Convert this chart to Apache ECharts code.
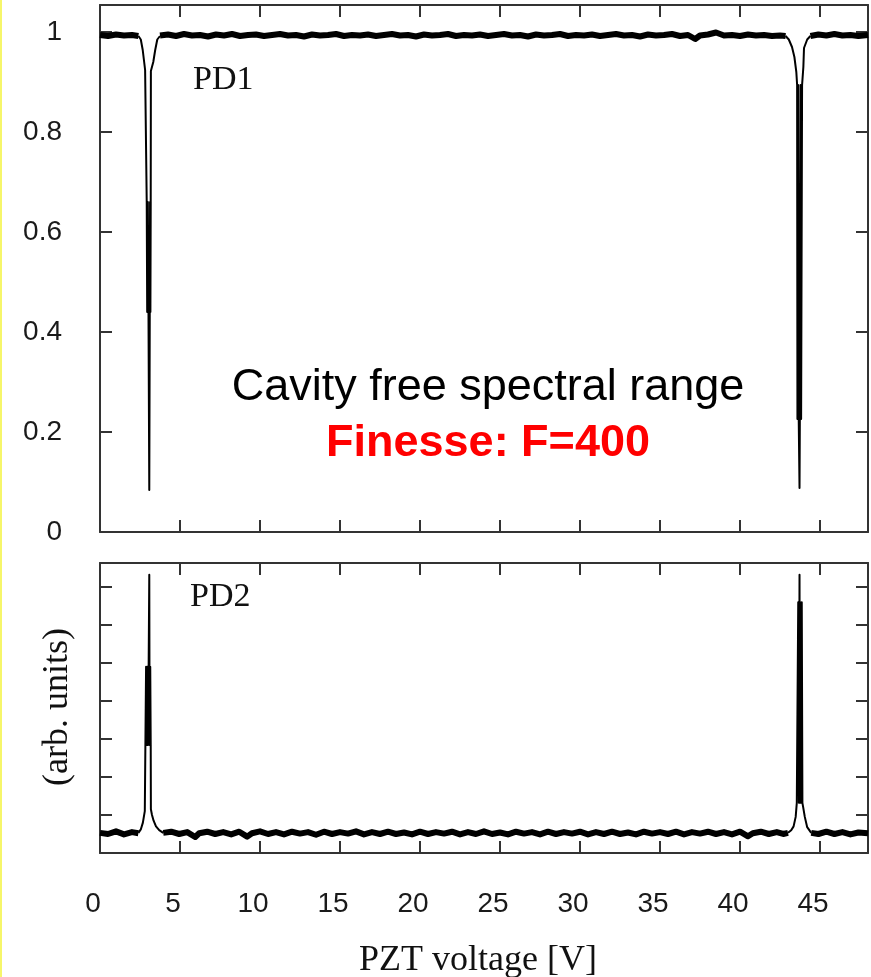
<!DOCTYPE html>
<html>
<head>
<meta charset="utf-8">
<script src="https://cdn.jsdelivr.net/npm/echarts@6/dist/echarts.min.js"></script>
<style>
  html, body { margin: 0; padding: 0; background: #fff; }
  #chart { width: 871px; height: 977px; }
</style>
</head>
<body>
<div id="chart"></div>
<script>
// PD1 (transmission dip), x = PZT voltage [V]
var pd1Left = [[0, 0.994], [0.5, 0.992], [1.0, 0.995], [1.5, 0.993], [2.0, 0.994], [2.4, 0.992]];
var pd1Dip1 = [[2.4, 0.992], [2.55, 0.985], [2.67, 0.964], [2.76, 0.94], [2.82, 0.924], [2.9, 0.922],
  [2.92, 0.66], [2.95, 0.44], [2.99, 0.66], [3.03, 0.44], [3.08, 0.084], [3.11, 0.44], [3.13, 0.66],
  [3.15, 0.44], [3.17, 0.66], [3.18, 0.922], [3.26, 0.924], [3.33, 0.94], [3.45, 0.964], [3.58, 0.985], [3.75, 0.992]];
var pd1Mid = [[3.75, 0.993], [4.25, 0.995], [4.75, 0.992], [5.25, 0.996], [5.75, 0.993], [6.25, 0.994],
  [6.75, 0.991], [7.25, 0.995], [7.75, 0.993], [8.25, 0.996], [8.75, 0.992], [9.25, 0.994], [9.75, 0.995],
  [10.25, 0.992], [10.75, 0.994], [11.25, 0.996], [11.75, 0.993], [12.25, 0.994], [12.75, 0.991],
  [13.25, 0.995], [13.75, 0.993], [14.25, 0.994], [14.75, 0.996], [15.25, 0.992], [15.75, 0.994],
  [16.25, 0.993], [16.75, 0.995], [17.25, 0.992], [17.75, 0.994], [18.25, 0.996], [18.75, 0.993],
  [19.25, 0.994], [19.75, 0.991], [20.25, 0.995], [20.75, 0.993], [21.25, 0.994], [21.75, 0.996],
  [22.25, 0.992], [22.75, 0.994], [23.25, 0.993], [23.75, 0.995], [24.25, 0.992], [24.75, 0.994],
  [25.25, 0.996], [25.75, 0.993], [26.25, 0.994], [26.75, 0.991], [27.25, 0.995], [27.75, 0.993],
  [28.25, 0.994], [28.75, 0.996], [29.25, 0.992], [29.75, 0.994], [30.25, 0.993], [30.75, 0.995],
  [31.25, 0.992], [31.75, 0.994], [32.25, 0.996], [32.75, 0.993], [33.25, 0.994], [33.75, 0.991],
  [34.25, 0.995], [34.75, 0.993], [35.25, 0.994], [35.75, 0.996], [36.25, 0.992], [36.75, 0.994],
  [37.2, 0.986], [37.5, 0.993], [38.0, 0.995], [38.5, 0.999], [39.0, 0.993], [39.5, 0.994], [40.0, 0.992],
  [40.5, 0.995], [41.0, 0.993], [41.5, 0.994], [42.0, 0.992], [42.5, 0.993], [42.85, 0.992]];
var pd1Dip2 = [[42.85, 0.992], [43.05, 0.985], [43.25, 0.97], [43.4, 0.95], [43.52, 0.92], [43.57, 0.894],
  [43.59, 0.226], [43.63, 0.894], [43.67, 0.226], [43.72, 0.088], [43.74, 0.226], [43.78, 0.894],
  [43.82, 0.226], [43.88, 0.894], [43.93, 0.894], [43.96, 0.93], [44.0, 0.968], [44.2, 0.985], [44.4, 0.992]];
var pd1Right = [[44.4, 0.992], [44.9, 0.995], [45.4, 0.993], [45.9, 0.996], [46.4, 0.993], [46.9, 0.994],
  [47.4, 0.992], [48, 0.994]];

// PD2 (reflection peak), arbitrary units
var pd2Left = [[0, 0.53], [0.5, 0.5], [1.0, 0.57], [1.5, 0.49], [2.0, 0.55], [2.4, 0.52]];
var pd2Peak1 = [[2.4, 0.53], [2.55, 0.62], [2.68, 0.8], [2.8, 1.1], [2.86, 1.15], [2.88, 4.9], [2.92, 2.84],
  [2.96, 4.9], [3.0, 2.84], [3.04, 4.9], [3.08, 7.32], [3.1, 2.84], [3.14, 4.9], [3.17, 2.84], [3.18, 1.15],
  [3.25, 1.0], [3.35, 0.85], [3.5, 0.7], [3.7, 0.6], [3.95, 0.53]];
var pd2Mid = [[3.95, 0.53], [4.45, 0.56], [4.95, 0.5], [5.45, 0.55], [5.95, 0.42], [6.2, 0.52], [6.7, 0.56],
  [7.2, 0.5], [7.7, 0.55], [8.2, 0.49], [8.7, 0.56], [9.2, 0.43], [9.5, 0.52], [10.0, 0.57], [10.5, 0.5],
  [11.0, 0.55], [11.5, 0.49], [12.0, 0.56], [12.5, 0.51], [13.0, 0.55], [13.5, 0.48], [14.0, 0.56],
  [14.5, 0.5], [15.0, 0.55], [15.5, 0.51], [16.0, 0.57], [16.5, 0.49], [17.0, 0.55], [17.5, 0.5],
  [18.0, 0.56], [18.5, 0.5], [19.0, 0.54], [19.5, 0.49], [20.0, 0.56], [20.5, 0.5], [21.0, 0.55],
  [21.5, 0.51], [22.0, 0.56], [22.5, 0.49], [23.0, 0.55], [23.5, 0.5], [24.0, 0.57], [24.5, 0.5],
  [25.0, 0.54], [25.5, 0.49], [26.0, 0.56], [26.5, 0.51], [27.0, 0.55], [27.5, 0.49], [28.0, 0.56],
  [28.5, 0.5], [29.0, 0.55], [29.5, 0.51], [30.0, 0.56], [30.5, 0.49], [31.0, 0.55], [31.5, 0.5],
  [32.0, 0.56], [32.5, 0.5], [33.0, 0.54], [33.5, 0.49], [34.0, 0.56], [34.5, 0.51], [35.0, 0.55],
  [35.5, 0.5], [36.0, 0.56], [36.5, 0.49], [37.0, 0.55], [37.5, 0.51], [38.0, 0.56], [38.5, 0.5],
  [39.0, 0.55], [39.5, 0.49], [40.0, 0.56], [40.5, 0.44], [40.8, 0.52], [41.3, 0.56], [41.8, 0.5],
  [42.3, 0.55], [42.7, 0.5], [43.0, 0.53]];
var pd2Peak2 = [[43.0, 0.53], [43.2, 0.6], [43.35, 0.7], [43.48, 0.95], [43.55, 1.32], [43.62, 1.32],
  [43.64, 6.6], [43.68, 1.32], [43.72, 7.32], [43.74, 1.32], [43.78, 6.6], [43.82, 1.32], [43.86, 6.6],
  [43.9, 1.32], [43.95, 1.2], [44.05, 0.95], [44.2, 0.68], [44.45, 0.53]];
var pd2Right = [[44.45, 0.53], [44.9, 0.5], [45.4, 0.56], [45.9, 0.5], [46.4, 0.55], [46.9, 0.49],
  [47.4, 0.54], [48, 0.52]];

var axisColor = '#333';
var labelFont = 'Liberation Sans, Arial, sans-serif';
var serifFont = 'Liberation Serif, Times New Roman, serif';

function xAxisFor(grid, pos, labels) {
  return {
    type: 'value', gridIndex: grid, position: pos, min: 0, max: 48, interval: 5,
    axisLine: {show: true, onZero: false, lineStyle: {color: axisColor, width: 2}},
    axisTick: {show: true, inside: true, length: 12, lineStyle: {color: axisColor, width: 2}},
    splitLine: {show: false},
    axisLabel: labels ? {
      show: true, margin: 37, padding: [0, 14, 0, 0], color: '#1a1a1a',
      fontFamily: labelFont, fontSize: 28,
      formatter: function (v) { return v % 5 === 0 ? String(v) : ''; }
    } : {show: false}
  };
}

function yAxisFor(grid, pos, max, interval, labels) {
  return {
    type: 'value', gridIndex: grid, position: pos, min: 0, max: max, interval: interval,
    axisLine: {show: true, onZero: false, lineStyle: {color: axisColor, width: 2}},
    axisTick: {show: true, inside: true, length: 12, lineStyle: {color: axisColor, width: 2}},
    splitLine: {show: false},
    axisLabel: labels ? {
      show: true, margin: 38, color: '#1a1a1a', fontFamily: labelFont, fontSize: 28,
      formatter: function (v) {
        var k = Math.round(v / interval);
        return Math.abs(v - k * interval) < 1e-6 ? String(Math.round(k * interval * 10) / 10) : '';
      }
    } : {show: false}
  };
}

function trace(data, g, w) {
  return {
    type: 'line', xAxisIndex: g * 2, yAxisIndex: g * 2, data: data,
    symbol: 'none', showSymbol: false, silent: true, animation: false,
    lineStyle: {color: '#000', width: w, join: 'round'}
  };
}

var chart = echarts.init(document.getElementById('chart'));

var option = {
  backgroundColor: '#fff',
  animation: false,
  grid: [
    {left: 100, right: 3, top: 5, height: 527},
    {left: 100, right: 3, top: 563, height: 290}
  ],
  xAxis: [
    xAxisFor(0, 'bottom', false),
    xAxisFor(0, 'top', false),
    xAxisFor(1, 'bottom', true),
    xAxisFor(1, 'top', false)
  ],
  yAxis: [
    yAxisFor(0, 'left', 1.054, 0.2, true),
    yAxisFor(0, 'right', 1.054, 0.2, false),
    yAxisFor(1, 'left', 7.63, 1, false),
    yAxisFor(1, 'right', 7.63, 1, false)
  ],
  series: [
    trace(pd1Left, 0, 6),
    trace(pd1Mid, 0, 6),
    trace(pd1Right, 0, 6),
    trace(pd1Dip1, 0, 2),
    trace(pd1Dip2, 0, 2),
    trace(pd2Left, 1, 6),
    trace(pd2Mid, 1, 6),
    trace(pd2Right, 1, 6),
    trace(pd2Peak1, 1, 2),
    trace(pd2Peak2, 1, 2)
  ],
  graphic: [
    {type: 'rect', shape: {x: 0, y: 0, width: 2, height: 977}, style: {fill: '#f6f66a'}},
    {type: 'text', x: 193, y: 80, style: {text: 'PD1', font: '34px ' + serifFont, fill: '#111', textAlign: 'left', textVerticalAlign: 'middle'}},
    {type: 'text', x: 190, y: 597, style: {text: 'PD2', font: '34px ' + serifFont, fill: '#111', textAlign: 'left', textVerticalAlign: 'middle'}},
    {type: 'text', x: 58, y: 707, rotation: Math.PI / 2, style: {text: '(arb. units)', font: '36px ' + serifFont, fill: '#111', textAlign: 'center', textVerticalAlign: 'middle'}},
    {type: 'text', x: 478, y: 961, style: {text: 'PZT voltage [V]', font: '36px ' + serifFont, fill: '#111', textAlign: 'center', textVerticalAlign: 'middle'}},
    {type: 'text', x: 488, y: 388, style: {text: 'Cavity free spectral range', font: '45px ' + labelFont, fill: '#000', textAlign: 'center', textVerticalAlign: 'middle'}},
    {type: 'text', x: 488, y: 444, style: {text: 'Finesse: F=400', font: 'bold 45px ' + labelFont, fill: '#ff0000', textAlign: 'center', textVerticalAlign: 'middle'}}
  ]
};

chart.setOption(option);
</script>
</body>
</html>
